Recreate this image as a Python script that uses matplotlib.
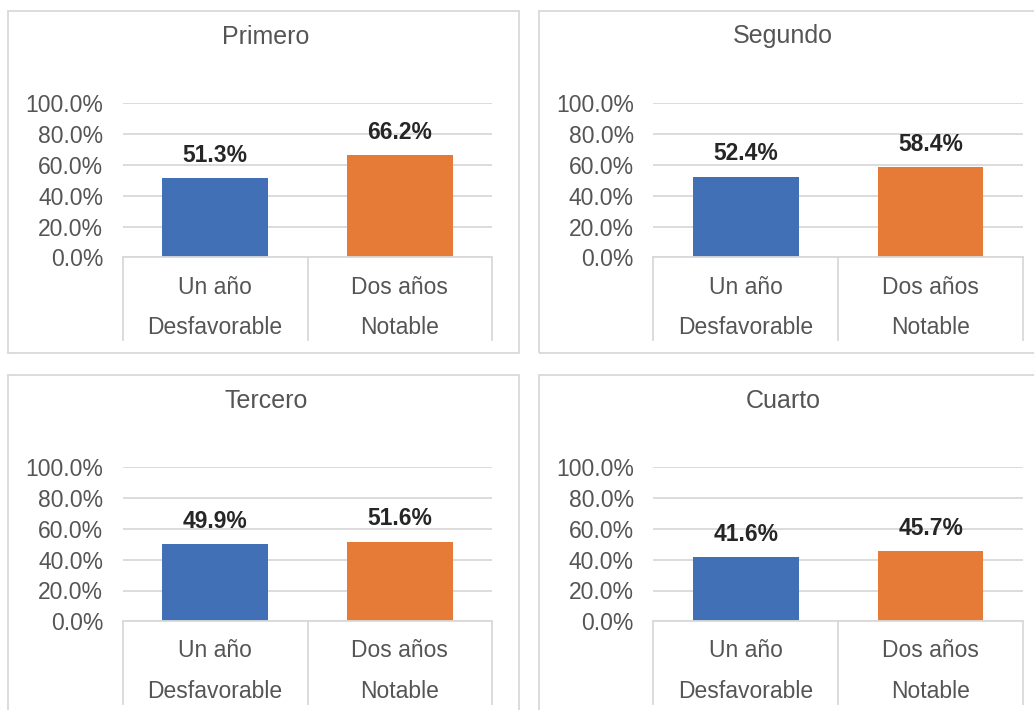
import matplotlib
matplotlib.use('Agg')
import matplotlib.pyplot as plt
from matplotlib.patches import Rectangle
from matplotlib.ticker import FuncFormatter

plt.rcParams['font.family'] = ['Liberation Sans', 'DejaVu Sans']

# data
titles = ['Primero', 'Segundo', 'Tercero', 'Cuarto']
cat_top = ['Un año', 'Dos años']
cat_bottom = ['Desfavorable', 'Notable']
values = [
    [0.513, 0.662],
    [0.524, 0.584],
    [0.499, 0.516],
    [0.416, 0.457],
]
bar_colors = ['#4270B6', '#E57B37']
y_ticks = [0, 0.2, 0.4, 0.6, 0.8, 1.0]

W, H = 1034, 710
grid_c = '#D9D9D9'
text_c = '#555555'

# panel offsets in pixels (x, y) and title centres
offsets = [(0, 0), (530.7, 0), (0, 364), (530.7, 364)]
title_x = [266, 783, 266, 783]

fig = plt.figure(figsize=(W / 100, H / 100), dpi=100)
fig.patch.set_facecolor('white')

for i in range(4):
    dx, dy = offsets[i]

    # outer frame of each chart
    box = Rectangle((( 8.3 + dx) / W, 1 - (352.7 + dy) / H),
                    510.7 / W, (352.7 - 11.3) / H,
                    transform=fig.transFigure, fill=False,
                    ec=grid_c, lw=1.3)
    fig.add_artist(box)

    fig.text(title_x[i] / W, 1 - (36.5 + dy) / H, titles[i],
             ha='center', va='center', fontsize=18, color=text_c)

    ax = fig.add_axes([(122.7 + dx) / W, 1 - (257.3 + dy) / H,
                       369.6 / W, 154 / H])
    ax.set_xlim(-0.5, 1.5)
    ax.set_ylim(0, 1)
    ax.bar([0, 1], values[i], width=0.572, color=bar_colors, zorder=3)

    for j, v in enumerate(values[i]):
        ax.annotate('{:.1%}'.format(v), (j, v), xytext=(0, 16.5),
                    textcoords='offset points', ha='center', va='center',
                    fontsize=16.5, fontweight='bold', color='#262626')

    ax.set_yticks(y_ticks)
    ax.yaxis.set_major_formatter(FuncFormatter(lambda y, p: '{:.1%}'.format(y)))
    ax.tick_params(axis='y', length=0, pad=14, labelsize=16.5, labelcolor=text_c)
    ax.set_xticks([])
    ax.yaxis.grid(True, color=grid_c, lw=1.3, zorder=0)
    for s in ['top', 'right', 'left']:
        ax.spines[s].set_visible(False)
    ax.spines['bottom'].set_color(grid_c)
    ax.spines['bottom'].set_linewidth(1.3)
    ax.spines['bottom'].set_zorder(4)

    # two-level category axis
    tr = ax.get_xaxis_transform()
    for xs in [-0.5, 0.5, 1.5]:
        ax.plot([xs, xs], [0, -(340 - 257.3) / 154], color=grid_c, lw=1.3,
                transform=tr, clip_on=False)
    for j in range(2):
        ax.text(j, -(287 - 257.3) / 154, cat_top[j], transform=tr,
                ha='center', va='center', fontsize=16.5, color=text_c)
        ax.text(j, -(327.5 - 257.3) / 154, cat_bottom[j], transform=tr,
                ha='center', va='center', fontsize=16.5, color=text_c)

fig.savefig('out.png', dpi=100)
